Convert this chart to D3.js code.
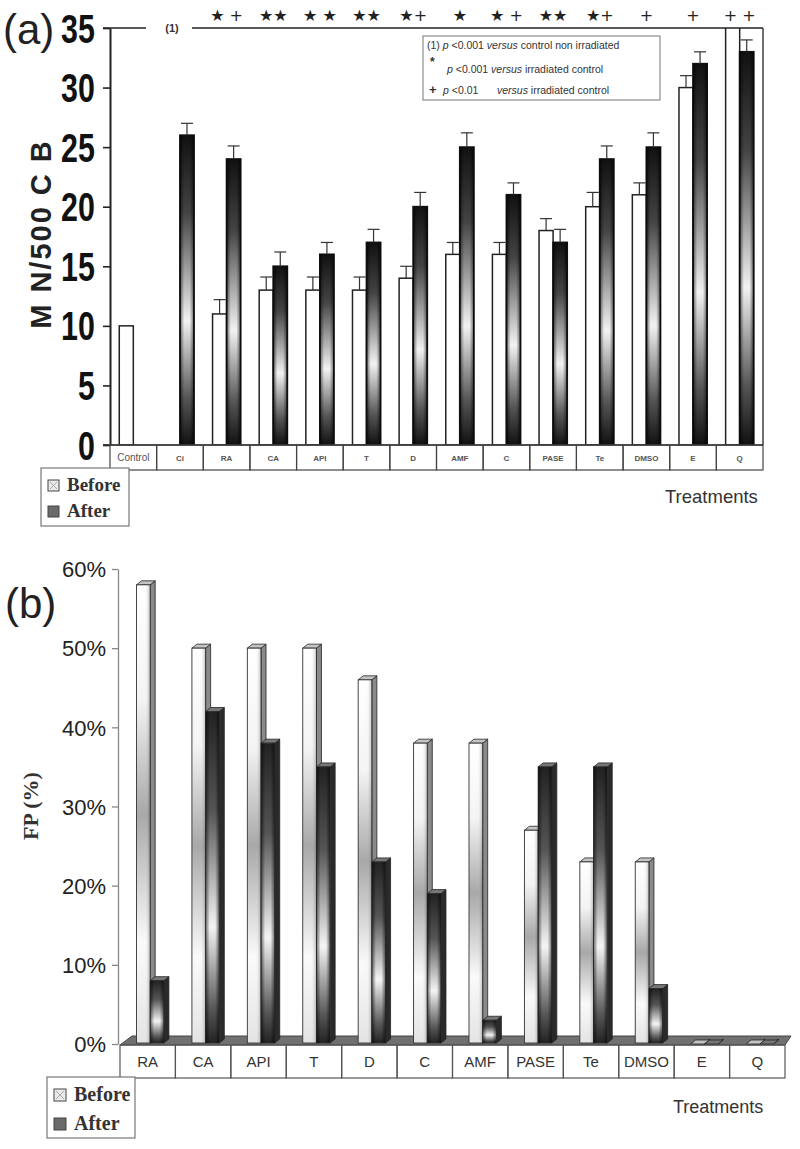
<!DOCTYPE html>
<html><head><meta charset="utf-8">
<script src="https://cdnjs.cloudflare.com/ajax/libs/d3/7.8.5/d3.min.js"></script>
<style>body{margin:0;background:#fff}</style>
</head><body><svg id="c" width="800" height="1149"></svg>
<script>
// ---------- DATA (a) ----------
const catsA = ["Control","Ci","RA","CA","API","T","D","AMF","C","PASE","Te","DMSO","E","Q"];
const beforeA = [10, null, 11, 13, 13, 13, 14, 16, 16, 18, 20, 21, 30, 38];
const afterA  = [null, 26, 24, 15, 16, 17, 20, 25, 21, 17, 24, 25, 32, 33];
const errBeforeA = [0, null, 1.2, 1.1, 1.1, 1.1, 1.0, 1.0, 1.0, 1.0, 1.2, 1.0, 1.0, 1.0];
const errAfterA  = [null, 1.0, 1.1, 1.2, 1.0, 1.1, 1.2, 1.2, 1.0, 1.1, 1.1, 1.2, 1.0, 1.0];
const sigA = ["", "", "* +", "**", "* *", "**", "*+", "*", "* +", "**", "*+", "+", "+", "+ +"];
const yTicksA = [0, 5, 10, 15, 20, 25, 30, 35];

// ---------- DATA (b) ----------
const catsB = ["RA","CA","API","T","D","C","AMF","PASE","Te","DMSO","E","Q"];
const beforeB = [58, 50, 50, 50, 46, 38, 38, 27, 23, 23, 0, 0];
const afterB  = [8, 42, 38, 35, 23, 19, 3, 35, 35, 7, 0, 0];
const yTicksB = [0, 10, 20, 30, 40, 50, 60];

const svg = d3.select("#c");
const defs = svg.append("defs");
function grad(id, horiz, stops){
  const g = defs.append("linearGradient").attr("id", id)
    .attr("x1",0).attr("y1",0).attr("x2",horiz?1:0).attr("y2",horiz?0:1);
  stops.forEach(s => g.append("stop").attr("offset", s[0]).attr("stop-color", s[1]).attr("stop-opacity", s[2]==null?1:s[2]));
}
grad("gA", false, [[0,"#111"],[0.25,"#444"],[0.6,"#f2f2f2"],[0.85,"#555"],[1,"#111"]]);
grad("gEdge", true, [[0,"#000",0.55],[0.3,"#000",0],[0.7,"#000",0],[1,"#000",0.55]]);
grad("gBbefore", false, [[0,"#fff"],[0.25,"#f4f4f4"],[0.5,"#a8a8a8"],[0.78,"#fafafa"],[1,"#e4e4e4"]]);
grad("gBafter", false, [[0,"#222"],[0.3,"#555"],[0.65,"#f4f4f4"],[0.9,"#555"],[1,"#222"]]);
grad("gBbeforeH", true, [[0,"#fff",0],[0.6,"#fff",0],[1,"#000",0.25]]);

const FONT = "'Liberation Sans', Arial, sans-serif";
const SERIF = "'Liberation Serif', 'Times New Roman', serif";

// ================= (a) =================
const A = {left:110, right:763, top:28, bottom:445};
const xA = d3.scaleBand().domain(catsA).range([A.left, A.right]);
const sA = d3.scaleBand().domain(["before","after"]).range([0, xA.bandwidth()]).paddingOuter(0.66);
const yA = d3.scaleLinear().domain([0, 35]).range([A.bottom, A.top]);

defs.append("clipPath").attr("id","clipA").append("rect")
  .attr("x", A.left).attr("y", A.top).attr("width", A.right-A.left).attr("height", A.bottom-A.top);

const rowsA = catsA.map((c,i)=>({c, before:beforeA[i], after:afterA[i], eb:errBeforeA[i], ea:errAfterA[i]}));
const gA = svg.append("g").attr("clip-path","url(#clipA)");

rowsA.forEach(r => {
  const w = sA.bandwidth();
  if (r.before != null) {
    const x = xA(r.c) + sA("before");
    gA.append("rect").attr("x", x).attr("y", yA(r.before)).attr("width", w)
      .attr("height", yA(0)-yA(r.before)).attr("fill","#fff").attr("stroke","#222").attr("stroke-width",1.5);
    if (r.eb) {
      const cx = x + w/2;
      gA.append("line").attr("x1",cx).attr("x2",cx).attr("y1",yA(r.before)).attr("y2",yA(r.before+r.eb)).attr("stroke","#333").attr("stroke-width",1.2);
      gA.append("line").attr("x1",cx-6).attr("x2",cx+6).attr("y1",yA(r.before+r.eb)).attr("y2",yA(r.before+r.eb)).attr("stroke","#333").attr("stroke-width",1.2);
    }
  }
  if (r.after != null) {
    const x = xA(r.c) + sA("after");
    gA.append("rect").attr("x", x).attr("y", yA(r.after)).attr("width", w)
      .attr("height", yA(0)-yA(r.after)).attr("fill","url(#gA)").attr("stroke","#111").attr("stroke-width",1.8);
    gA.append("rect").attr("x", x).attr("y", yA(r.after)).attr("width", w)
      .attr("height", yA(0)-yA(r.after)).attr("fill","url(#gEdge)");
    if (r.ea) {
      const cx = x + w/2;
      gA.append("line").attr("x1",cx).attr("x2",cx).attr("y1",yA(r.after)).attr("y2",yA(r.after+r.ea)).attr("stroke","#333").attr("stroke-width",1.2);
      gA.append("line").attr("x1",cx-6).attr("x2",cx+6).attr("y1",yA(r.after+r.ea)).attr("y2",yA(r.after+r.ea)).attr("stroke","#333").attr("stroke-width",1.2);
    }
  }
});

// axis
const axA = svg.append("g").attr("transform",`translate(${A.left},0)`)
  .call(d3.axisLeft(yA).tickValues(yTicksA).tickSize(7).tickSizeOuter(0).tickFormat(d3.format("d")));
axA.select(".domain").attr("stroke","#222").attr("stroke-width",2);
axA.selectAll(".tick line").attr("stroke","#222").attr("stroke-width",1.6);
axA.selectAll(".tick text").attr("font-family",FONT).attr("font-weight","bold").attr("font-size",40)
  .attr("fill","#111").attr("transform","scale(0.76,1)").attr("x",-20).attr("dy","0.35em");

// frame lines
svg.append("line").attr("x1",A.left-7).attr("x2",146).attr("y1",A.top).attr("y2",A.top).attr("stroke","#222").attr("stroke-width",1.6);
svg.append("line").attr("x1",192).attr("x2",A.right).attr("y1",A.top).attr("y2",A.top).attr("stroke","#222").attr("stroke-width",1.6);
svg.append("text").attr("x",172).attr("y",A.top+4).attr("text-anchor","middle").attr("font-family",FONT)
  .attr("font-weight","bold").attr("font-size",11).attr("fill","#333").text("(1)");
svg.append("line").attr("x1",A.right).attr("x2",A.right).attr("y1",A.top).attr("y2",A.bottom).attr("stroke","#333").attr("stroke-width",1.4);
svg.append("line").attr("x1",A.left-7).attr("x2",A.right).attr("y1",A.bottom).attr("y2",A.bottom).attr("stroke","#222").attr("stroke-width",1.6);

// table
const tA = svg.append("g");
catsA.forEach(c => {
  tA.append("rect").attr("x",xA(c)).attr("y",A.bottom).attr("width",xA.bandwidth()).attr("height",25)
    .attr("fill","none").attr("stroke","#444").attr("stroke-width",1.2);
  tA.append("text").attr("x",xA(c)+xA.bandwidth()/2).attr("y",A.bottom+16).attr("text-anchor","middle")
    .attr("font-family",FONT).attr("font-size", c==="Control"?10:8).attr("font-weight", c==="Control"?"normal":"bold")
    .attr("fill","#555").text(c);
});

// significance symbols
catsA.forEach((c,i) => {
  if (!sigA[i]) return;
  const t = svg.append("text").attr("x",xA(c)+xA.bandwidth()/2).attr("y",21).attr("text-anchor","middle")
    .attr("font-family","'DejaVu Sans', sans-serif").attr("font-size",16).attr("fill","#222");
  t.text(sigA[i].replace(/\*/g,"★"));
});

// legend box (significance)
const lg = svg.append("g").attr("font-family",FONT).attr("font-size",10.5).attr("fill","#333");
lg.append("rect").attr("x",423).attr("y",36).attr("width",237).attr("height",64).attr("fill","#fff").attr("stroke","#777").attr("stroke-width",1);
let t1 = lg.append("text").attr("x",427).attr("y",49);
t1.append("tspan").text("(1) ");
t1.append("tspan").attr("font-style","italic").text("p");
t1.append("tspan").text(" <0.001 ");
t1.append("tspan").attr("font-style","italic").text("versus");
t1.append("tspan").text(" control non irradiated");
lg.append("text").attr("x",430).attr("y",66).attr("font-size",12).attr("font-weight","bold").text("*");
let t2 = lg.append("text").attr("x",447).attr("y",73);
t2.append("tspan").attr("font-style","italic").text("p");
t2.append("tspan").text(" <0.001 ");
t2.append("tspan").attr("font-style","italic").text("versus");
t2.append("tspan").text(" irradiated control");
lg.append("text").attr("x",429).attr("y",94).attr("font-size",13).attr("font-weight","bold").text("+");
let t3 = lg.append("text").attr("x",443).attr("y",94);
t3.append("tspan").attr("font-style","italic").text("p");
t3.append("tspan").text(" <0.01");
let t3b = lg.append("text").attr("x",497).attr("y",94);
t3b.append("tspan").attr("font-style","italic").text("versus");
t3b.append("tspan").text(" irradiated control");

// titles
svg.append("text").attr("x",3).attr("y",44).attr("font-family",FONT).attr("font-size",42).attr("fill","#222").text("(a)");
svg.append("text").attr("transform","translate(51,234) rotate(-90)").attr("text-anchor","middle")
  .attr("font-family",FONT).attr("font-weight","bold").attr("font-size",29).attr("fill","#222")
  .attr("letter-spacing",2).text("M N/500 C B");
svg.append("text").attr("x",665).attr("y",503).attr("font-family",FONT).attr("font-size",18.5).attr("fill","#333").text("Treatments");

function legend(x, y, w, h, sq, fs, gap){
  const g = svg.append("g");
  g.append("rect").attr("x",x).attr("y",y).attr("width",w).attr("height",h).attr("fill","#fff").attr("stroke","#777").attr("stroke-width",1.2);
  const items = [["Before","#eaeaea"],["After","#6a6a6a"]];
  items.forEach((it,i) => {
    const yy = y + 12 + i*gap;
    g.append("rect").attr("x",x+7).attr("y",yy).attr("width",sq).attr("height",sq).attr("fill",it[1]).attr("stroke","#444").attr("stroke-width",1);
    if (i===0) {
      g.append("line").attr("x1",x+9).attr("y1",yy+2).attr("x2",x+5+sq).attr("y2",yy+sq-2).attr("stroke","#aaa");
      g.append("line").attr("x1",x+5+sq).attr("y1",yy+2).attr("x2",x+9).attr("y2",yy+sq-2).attr("stroke","#aaa");
    }
    g.append("text").attr("x",x+7+sq+8).attr("y",yy+sq).attr("font-family",SERIF).attr("font-weight","bold")
      .attr("font-size",fs).attr("fill","#333").text(it[0]);
  });
}
legend(41, 468, 88, 58, 11, 19, 26);

// ================= (b) =================
const B = {left:120, right:785, top:569, bottom:1044, axis:118};
const xB = d3.scaleBand().domain(catsB).range([B.left, B.right]);
const yB = d3.scaleLinear().domain([0, 60]).range([B.bottom, B.top]);
const barW = 13.7, dx = 5, dy = 4, off = 16.5;
const rowsB = catsB.map((c,i)=>({c, before:beforeB[i], after:afterB[i]}));

// floor
svg.append("polygon").attr("points",[[B.left,B.bottom+1],[B.left+12,B.bottom-8],[B.right+6,B.bottom-8],[B.right,B.bottom+1]].map(p=>p.join(",")).join(" "))
  .attr("fill","#707070").attr("stroke","#444").attr("stroke-width",1);

const gB = svg.append("g");
function bar3d(x0, v, front, side, top, overlay){
  const yt = yB(v), yb = yB(0) - 1;
  const g = gB.append("g");
  g.append("polygon").attr("points",[[x0+barW,yt],[x0+barW+dx,yt-dy],[x0+barW+dx,yb-dy],[x0+barW,yb]].map(p=>p.join(",")).join(" "))
    .attr("fill",side).attr("stroke","#222").attr("stroke-width",0.8);
  g.append("polygon").attr("points",[[x0,yt],[x0+dx,yt-dy],[x0+barW+dx,yt-dy],[x0+barW,yt]].map(p=>p.join(",")).join(" "))
    .attr("fill",top).attr("stroke","#222").attr("stroke-width",0.8);
  if (yb - yt > 0.5) {
    g.append("rect").attr("x",x0).attr("y",yt).attr("width",barW).attr("height",yb-yt)
      .attr("fill",front).attr("stroke","#333").attr("stroke-width",0.9);
    if (overlay) g.append("rect").attr("x",x0).attr("y",yt).attr("width",barW).attr("height",yb-yt).attr("fill",overlay);
  }
}
rowsB.forEach(r => {
  const x0 = xB(r.c) + off;
  bar3d(x0, r.before, "url(#gBbefore)", "#8a8a8a", "#c4c4c4", "url(#gBbeforeH)");
  bar3d(x0 + barW, r.after, "url(#gBafter)", "#2a2a2a", "#777", "url(#gEdge)");
});

// axis b
const axB = svg.append("g").attr("transform",`translate(${B.axis},0)`)
  .call(d3.axisLeft(yB).tickValues(yTicksB).tickSize(6).tickSizeOuter(0).tickFormat(d => d + "%"));
axB.select(".domain").attr("stroke","#888").attr("stroke-width",1.3);
axB.selectAll(".tick line").attr("stroke","#888").attr("stroke-width",1.3);
axB.selectAll(".tick text").attr("font-family",FONT).attr("font-size",22).attr("fill","#222").attr("x",-12).attr("dy","0.35em");

// table b
const tB = svg.append("g");
catsB.forEach(c => {
  tB.append("rect").attr("x",xB(c)).attr("y",B.bottom+1).attr("width",xB.bandwidth()).attr("height",33)
    .attr("fill","none").attr("stroke","#555").attr("stroke-width",1.2);
  tB.append("text").attr("x",xB(c)+xB.bandwidth()/2).attr("y",B.bottom+23).attr("text-anchor","middle")
    .attr("font-family",FONT).attr("font-size",15).attr("fill","#333").text(c);
});

svg.append("text").attr("x",5).attr("y",618).attr("font-family",FONT).attr("font-size",42).attr("fill","#222").text("(b)");
svg.append("text").attr("transform","translate(38,806) rotate(-90)").attr("text-anchor","middle")
  .attr("font-family",SERIF).attr("font-weight","bold").attr("font-size",22).attr("fill","#333").text("FP (%)");
svg.append("text").attr("x",673).attr("y",1113).attr("font-family",FONT).attr("font-size",18).attr("fill","#333").text("Treatments");
legend(47, 1077, 88, 61, 12, 20, 29);
</script></body></html>
